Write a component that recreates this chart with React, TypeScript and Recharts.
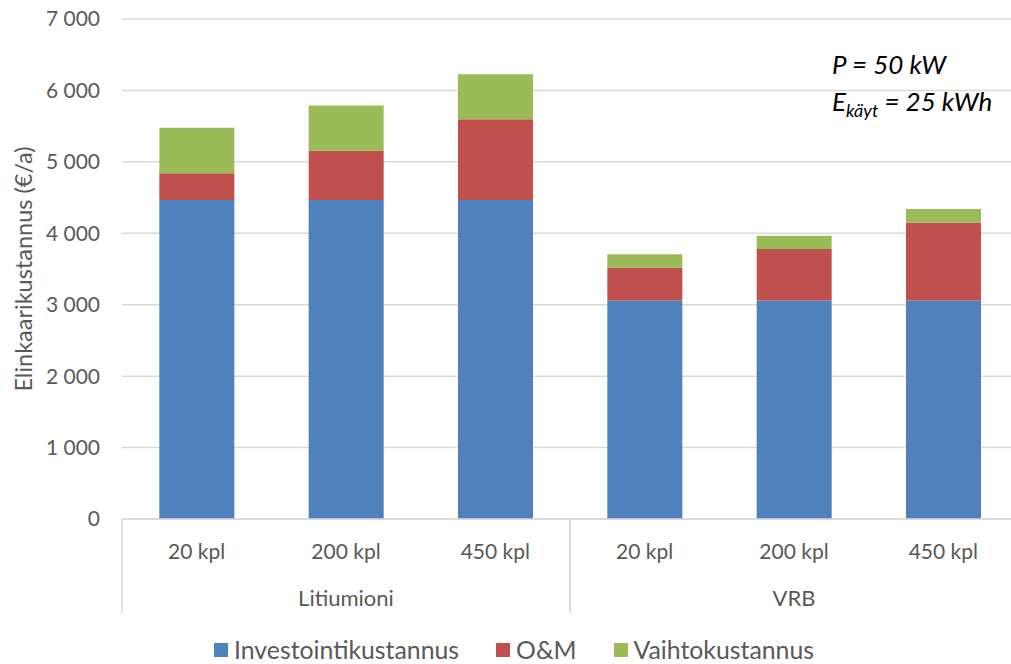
import React from "react";
import { BarChart, Bar, XAxis, YAxis, CartesianGrid } from "recharts";

// Annual life-cycle cost per battery type and production volume
const groups = ["Litiumioni", "Litiumioni", "Litiumioni", "VRB", "VRB", "VRB"];
const volumes = ["20 kpl", "200 kpl", "450 kpl", "20 kpl", "200 kpl", "450 kpl"];
const investment = [4465, 4465, 4465, 3060, 3060, 3060];
const operation = [375, 690, 1130, 458, 720, 1088];
const replacement = [638, 635, 630, 187, 186, 192];
const yTicks = [0, 1000, 2000, 3000, 4000, 5000, 6000, 7000];

const data = volumes.map((kpl, i) => ({
  id: `${groups[i]} ${kpl}`,
  group: groups[i],
  kpl,
  inv: investment[i],
  om: operation[i],
  vaihto: replacement[i],
}));

const series = [
  { key: "inv", name: "Investointikustannus", color: "#4f81bd" },
  { key: "om", name: "O&M", color: "#c0504d" },
  { key: "vaihto", name: "Vaihtokustannus", color: "#9bbb59" },
];

const FONT = "Lato, 'Open Sans', sans-serif";
const TEXT = "#595959";
const LINE = "#d9d9d9";

// plot area runs a little past the right edge of the frame
const CHART_W = 1011;
const CHART_H = 664;
const X_H = 100;
const MARGIN = { top: 19, right: -7, bottom: 145 - X_H, left: 0 };
const Y_W = 122;

const fmt = (v: number) => String(v).replace(/\B(?=(\d{3})+(?!\d))/g, " ");

// two-level category tick: volume label, group label under the middle bar,
// and separator lines at the group edges
function GroupedTick(props: any) {
  const { x, y, index } = props;
  const row = data[index];
  if (!row) return null;
  const band = (CHART_W - Y_W - MARGIN.right) / data.length;
  const half = band / 2;
  const g = row.group;
  const prev = data[index - 1]?.group;
  const next = data[index + 1]?.group;
  const members = data.filter((d) => d.group === g).length;
  const first = data.findIndex((d) => d.group === g);
  const isMiddle = index === first + Math.floor(members / 2);
  return (
    <g>
      <text
        x={x}
        y={y + 31}
        textAnchor="middle"
        dominantBaseline="central"
        fill={TEXT}
        fontSize={21}
        fontFamily={FONT}
      >
        {row.kpl}
      </text>
      {isMiddle && (
        <text
          x={x}
          y={y + 78}
          textAnchor="middle"
          dominantBaseline="central"
          fill={TEXT}
          fontSize={22}
          fontFamily={FONT}
        >
          {g}
        </text>
      )}
      {prev !== g && (
        <line x1={x - half} x2={x - half} y1={y} y2={y + 94} stroke={LINE} strokeWidth={1.5} />
      )}
      {next !== g && (
        <line x1={x + half} x2={x + half} y1={y} y2={y + 94} stroke={LINE} strokeWidth={1.5} />
      )}
    </g>
  );
}

function AxisTitle(props: any) {
  const vb = props.viewBox || { x: 0, y: MARGIN.top, height: 500 };
  const cx = vb.x + 23;
  const cy = vb.y + vb.height / 2;
  return (
    <text
      x={cx}
      y={cy}
      transform={`rotate(-90, ${cx}, ${cy})`}
      textAnchor="middle"
      dominantBaseline="central"
      fill={TEXT}
      fontSize={23.5}
      fontFamily={FONT}
    >
      Elinkaarikustannus (€/a)
    </text>
  );
}

export default function App() {
  return (
    <div
      style={{
        position: "fixed",
        left: 0,
        top: 0,
        width: 1011,
        height: 664,
        overflow: "hidden",
        background: "#ffffff",
      }}
    >
      <BarChart
        width={CHART_W}
        height={CHART_H}
        data={data}
        margin={MARGIN}
        barCategoryGap="25%"
        style={{ overflow: "visible" }}
      >
        <CartesianGrid vertical={false} stroke={LINE} strokeWidth={1.5} />
        <XAxis
          dataKey="id"
          interval={0}
          tickSize={0}
          tickMargin={0}
          tickLine={false}
          axisLine={{ stroke: LINE, strokeWidth: 1.5 }}
          tick={<GroupedTick />}
          height={X_H}
        />
        <YAxis
          width={Y_W}
          domain={[0, 7000]}
          ticks={yTicks}
          tickFormatter={fmt}
          axisLine={false}
          tickLine={false}
          tickSize={0}
          tickMargin={22}
          tick={{ fill: TEXT, fontSize: 21, fontFamily: FONT }}
          label={<AxisTitle />}
        />
        {series.map((s) => (
          <Bar
            key={s.key}
            dataKey={s.key}
            name={s.name}
            stackId="cost"
            fill={s.color}
            isAnimationActive={false}
          />
        ))}
      </BarChart>

      {/* legend */}
      <div
        style={{
          position: "absolute",
          left: 0,
          top: 636,
          width: 1028,
          display: "flex",
          justifyContent: "center",
          gap: 37,
          fontFamily: FONT,
          fontSize: 24.8,
          color: TEXT,
          lineHeight: "28px",
        }}
      >
        {series.map((s) => (
          <div key={s.key} style={{ display: "flex", alignItems: "center", gap: 6 }}>
            <span style={{ width: 14, height: 14, background: s.color, display: "inline-block" }} />
            <span>{s.name}</span>
          </div>
        ))}
      </div>

      {/* system parameters */}
      <div
        style={{
          position: "absolute",
          left: 832,
          top: 46,
          fontFamily: FONT,
          fontStyle: "italic",
          fontSize: 26,
          color: "#000000",
          lineHeight: "37px",
          whiteSpace: "nowrap",
        }}
      >
        <div>P = 50 kW</div>
        <div>
          E<sub style={{ fontSize: 18, verticalAlign: "-6px" }}>käyt</sub> = 25 kWh
        </div>
      </div>
    </div>
  );
}
